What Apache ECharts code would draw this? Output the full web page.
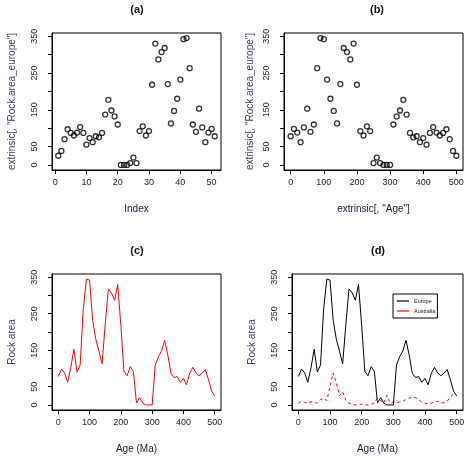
<!DOCTYPE html>
<html>
	<head>
		<meta charset="UTF-8">
		<title>Rock area</title>
		<script src="https://cdn.jsdelivr.net/npm/echarts@6/dist/echarts.min.js"></script>
		<style>
			html, body { margin: 0; padding: 0; background: #fff; }
			#main { width: 473px; height: 458px; }
		</style>
	</head>
	<body>
		<div id="main"></div>
		<script>
			// 年龄（Ma）
			var ages = [0, 10, 20, 30, 40, 50, 60, 70, 80, 90, 100, 110, 120, 130, 140, 150, 160, 170, 180, 190,
				200, 210, 220, 230, 240, 250, 260, 270, 280, 290, 300, 310, 320, 330, 340, 350, 360, 370, 380, 390,
				400, 410, 420, 430, 440, 450, 460, 470, 480, 490, 500];
			// 欧洲岩石面积
			var europe = [78, 98, 88, 62, 102, 153, 90, 110, 263, 345, 342, 232, 180, 147, 113, 220, 318, 307, 287, 330,
				218, 92, 80, 105, 92, 5, 20, 5, 0, 0, 0, 110, 132, 148, 177, 137, 87, 75, 78, 62,
				73, 55, 87, 103, 88, 80, 87, 97, 70, 38, 25];
			// 澳洲岩石面积
			var australia = [5, 10, 7, 5, 9, 7, 5, 15, 18, 12, 50, 88, 60, 25, 36, 12, 5, 2, 0, 2,
				2, 0, 0, 2, 5, 19, 12, 5, 27, 5, 8, 6, 8, 10, 15, 18, 22, 20, 14, 8,
				5, 3, 5, 8, 10, 8, 5, 10, 22, 30, 25];
			// 刻度
			var indexTicks = [0, 10, 20, 30, 40, 50];
			var ageTicks = [0, 100, 200, 300, 400, 500];
			var yTicks = [0, 50, 100, 150, 200, 250, 300, 350];
			var yLabels = [0, 50, 150, 250, 350];

			// (a) 按行号：行号1对应500 Ma，数据顺序与年龄相反
			var byIndex = [];
			for (var i = 0; i < europe.length; i++) {
				byIndex.push([i + 1, europe[europe.length - 1 - i]]);
			}
			var byAge = [], rockEU = [], rockAU = [];
			for (var j = 0; j < ages.length; j++) {
				byAge.push([ages[j], europe[j]]);
				rockEU.push([ages[j], europe[j]]);
				rockAU.push([ages[j], australia[j]]);
			}

			var font = 'Liberation Sans, Arial, sans-serif';
			var ink = '#1c1c30';
			var yInk = '#3a3a66';

			function xAxis(idx, min, max, ticks, name, gap) {
				return {
					type: 'value', gridIndex: idx, min: min, max: max,
					splitLine: { show: false },
					axisLine: { show: true, onZero: false, lineStyle: { color: '#000', width: 1 } },
					axisTick: { show: true, length: 4, customValues: ticks, lineStyle: { color: '#000' } },
					axisLabel: { customValues: ticks, color: ink, fontSize: 9, fontFamily: font, margin: 8 },
					name: name, nameLocation: 'middle', nameGap: gap,
					nameTextStyle: { color: ink, fontSize: 10, fontFamily: font }
				};
			}
			function yAxis(idx, name, gap) {
				return {
					type: 'value', gridIndex: idx, min: -13.8, max: 358.8,
					splitLine: { show: false },
					axisLine: { show: true, onZero: false, lineStyle: { color: '#000', width: 1 } },
					axisTick: { show: true, length: 4, customValues: yTicks, lineStyle: { color: '#000' } },
					axisLabel: { customValues: yLabels, rotate: 90, color: ink, fontSize: 9, fontFamily: font, margin: 13 },
					name: name, nameLocation: 'middle', nameGap: gap,
					nameTextStyle: { color: yInk, fontSize: 10, fontFamily: font }
				};
			}
			function grid(l, t, w, h) {
				return { left: l, top: t, width: w, height: h, show: true, borderColor: '#000', borderWidth: 1,
					backgroundColor: 'transparent', outerBoundsMode: 'none' };
			}
			function label(text, x, y) {
				return { type: 'text', x: x, y: y,
					style: { text: text, fill: '#111', font: 'bold 11px ' + font, textAlign: 'center', textVerticalAlign: 'middle' } };
			}
			var circle = { color: 'transparent', borderColor: '#000', borderWidth: 1.3 };

			var myChart = echarts.init(document.getElementById('main'));
			var option = {
				animation: false,
				graphic: [
					label('(a)', 137, 10),
					label('(b)', 377, 10),
					label('(c)', 137, 251),
					label('(d)', 378, 251)
				],
				legend: {
					data: ['Europe', 'Australia'],
					icon: 'rect',
					orient: 'vertical', left: 393, top: 294,
					padding: [4, 2, 4, 4], itemGap: 4, itemWidth: 12, itemHeight: 1.2,
					borderColor: '#000', borderWidth: 1, borderRadius: 0,
					textStyle: { fontSize: 5.5, color: '#222', fontFamily: font }
				},
				grid: [
					grid(52, 33, 169, 137),
					grid(284, 33, 179, 137),
					grid(52, 274, 169, 136),
					grid(292, 274, 171, 136)
				],
				xAxis: [
					xAxis(0, -1, 53, indexTicks, 'Index', 34),
					xAxis(1, -20, 520, ageTicks, 'extrinsic[, "Age"]', 34),
					xAxis(2, -20, 520, ageTicks, 'Age (Ma)', 34),
					xAxis(3, -20, 520, ageTicks, 'Age (Ma)', 34)
				],
				yAxis: [
					yAxis(0, 'extrinsic[, "Rock.area_europe"]', 35),
					yAxis(1, 'extrinsic[, "Rock.area_europe"]', 29),
					yAxis(2, 'Rock area', 35),
					yAxis(3, 'Rock area', 35)
				],
				series: [
					{ type: 'scatter', xAxisIndex: 0, yAxisIndex: 0, data: byIndex, symbol: 'circle', symbolSize: 5, itemStyle: circle },
					{ type: 'scatter', xAxisIndex: 1, yAxisIndex: 1, data: byAge, symbol: 'circle', symbolSize: 5, itemStyle: circle },
					{ type: 'line', xAxisIndex: 2, yAxisIndex: 2, data: rockEU, showSymbol: false, symbol: 'none',
						lineStyle: { color: '#ff0000', width: 1 } },
					{ name: 'Europe', type: 'line', xAxisIndex: 3, yAxisIndex: 3, data: rockEU, showSymbol: false, symbol: 'none',
						itemStyle: { color: '#000' }, lineStyle: { color: '#000', width: 1 } },
					{ name: 'Australia', type: 'line', xAxisIndex: 3, yAxisIndex: 3, data: rockAU, showSymbol: false, symbol: 'none',
						itemStyle: { color: '#ff0000' }, lineStyle: { color: '#ff0000', width: 1, type: [3, 3] } }
				]
			};
			myChart.setOption(option);
		</script>
	</body>
</html>
